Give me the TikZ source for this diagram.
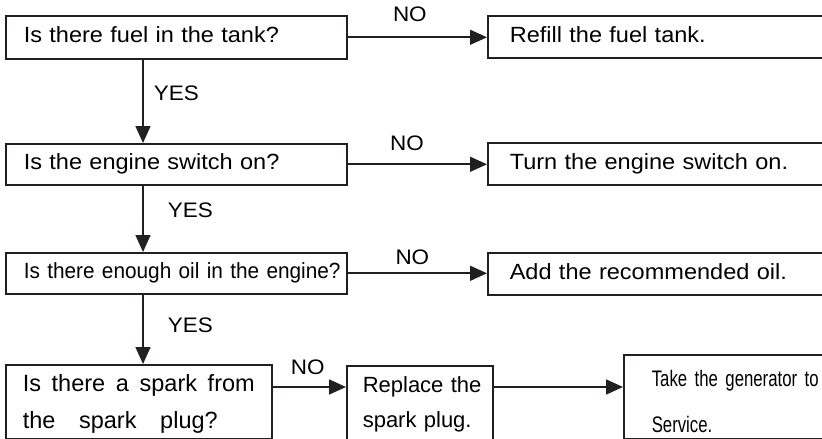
\documentclass[tikz,border=0pt]{standalone}
\usepackage{fontspec}
\setmainfont{Liberation Sans}
\newfontfamily\widefont[FakeStretch=1.07]{Liberation Sans}
\newfontfamily\narrowfont[FakeStretch=0.945]{Liberation Sans}
\newfontfamily\condensedfont[FakeStretch=0.745]{Liberation Sans}
\definecolor{inkline}{HTML}{231F20}
\usetikzlibrary{positioning, arrows.meta}

\begin{document}
\begin{tikzpicture}[
        x=0.02cm, y=-0.02cm,
        check_box/.style={rectangle, draw=inkline, line width=0.9pt, anchor=north west, align=left, inner ysep=0pt, text height=0.32cm, text depth=0.1cm, font=\widefont\fontsize{0.44cm}{0.55cm}\selectfont, text width=6.10cm, inner xsep=0.36cm},
        answer_box/.style={check_box, text width=6.32cm, inner xsep=0.44cm, minimum height=0.84cm},
        flow_arrow/.style={draw=inkline, line width=0.9pt, -{Triangle[length=0.34cm, width=0.3cm]}},
        branch_label/.style={font=\widefont\fontsize{0.42cm}{0.5cm}\selectfont, inner sep=0pt, text height=0.3cm, text depth=0pt}
    ]
        \useasboundingbox (0,0) rectangle (822,439);
        \clip (0,0) rectangle (822,439);

        % Checks (left column)
        \node[check_box, minimum height=0.86cm] (q1) at (5,15) {Is there fuel in the tank?};
        \node[check_box, minimum height=0.82cm] (q2) at (5,143) {Is the engine switch on?};
        \node[check_box, minimum height=0.82cm, font=\narrowfont\fontsize{0.44cm}{0.55cm}\selectfont] (q3) at (5,252) {\mbox{Is there enough oil in the engine?}};
        \node[check_box, text width=4.64cm, inner xsep=0.34cm, minimum height=1.48cm, text height=0.34cm, text depth=0.74cm, font=\fontsize{0.47cm}{0.74cm}\selectfont] (q4) at (5,364)
            {\makebox[4.64cm][l]{Is\hfill there\hfill a\hfill spark\hfill from}\\\makebox[3.9cm][l]{the\hfill spark\hfill plug?}};

        % Remedies
        \node[answer_box] (a1) at (487,15) {Refill the fuel tank.};
        \node[answer_box] (a2) at (487,142) {Turn the engine switch on.};
        \node[answer_box] (a3) at (487,252) {Add the recommended oil.};
        \node[check_box, text width=2.28cm, inner xsep=0.32cm, minimum height=1.52cm, text depth=0.76cm, font=\fontsize{0.44cm}{0.70cm}\selectfont] (r4) at (346,365) {\mbox{Replace the}\\\mbox{spark plug.}};
        \node[check_box, text width=3.36cm, inner xsep=0.56cm, minimum height=1.68cm, text height=0.34cm, text depth=0.74cm, font=\condensedfont\fontsize{0.45cm}{0.92cm}\selectfont] (s4) at (623,354) {Take the generator to\\Service.};

        % YES path
        \coordinate (spine) at (143,0);
        \draw[flow_arrow] (spine |- q1.south) -- node[branch_label, pos=0.4, anchor=west, xshift=0.2cm] {YES} (spine |- q2.north);
        \draw[flow_arrow] (spine |- q2.south) -- node[branch_label, pos=0.375, anchor=west, xshift=0.48cm] {YES} (spine |- q3.north);
        \draw[flow_arrow] (spine |- q3.south) -- node[branch_label, pos=0.44, anchor=west, xshift=0.48cm] {YES} (spine |- q4.north);

        % NO branches
        \draw[flow_arrow] (q1.east) -- node[branch_label, pos=0.447, above=0.3cm] {NO} (q1.east -| a1.west);
        \draw[flow_arrow] (q2.east) -- node[branch_label, pos=0.426, above=0.26cm] {NO} (q2.east -| a2.west);
        \draw[flow_arrow] (q3.east) -- node[branch_label, pos=0.465, above=0.16cm] {NO} (q3.east -| a3.west);
        \coordinate (row4) at (0,387);
        \draw[flow_arrow] (q4.east |- row4) -- node[branch_label, pos=0.48, above=0.24cm] {NO} (r4.west |- row4);
        \draw[flow_arrow] (r4.east |- row4) -- (s4.west |- row4);

    \end{tikzpicture}
\end{document}
